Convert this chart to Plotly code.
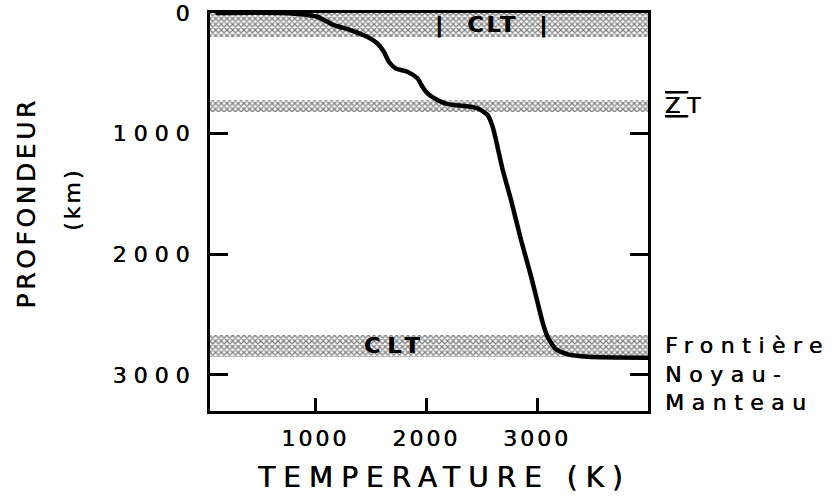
import plotly.graph_objects as go

# Temperature profile through the mantle (K vs km)
temperature = [100, 700, 1015, 1166, 1317, 1468, 1558, 1618, 1663, 1724, 1830,
               1920, 1966, 2011, 2101, 2192, 2342, 2463, 2554, 2599, 2629, 2650,
               2690, 2765, 2855, 2946, 3006, 3052, 3097, 3172, 3278, 3459, 4000]
depth = [0, 0, 31, 100, 141, 197, 251, 321, 404, 459, 487,
         541, 611, 666, 721, 755, 771, 790, 846, 943, 1053, 1140,
         1302, 1551, 1882, 2186, 2407, 2573, 2690, 2789, 2830, 2850, 2858]

# Thermal boundary layers / transition zone (km)
band_top = [0, 720, 2670]
band_bottom = [200, 820, 2850]

x_ticks = [1000, 2000, 3000]
y_ticks = [0, 1000, 2000, 3000]
T_MIN, T_MAX = 50, 4000
D_MAX = 3300

FONT = "DejaVu Sans"
# slight horizontal smear to give the lettering a heavier, printed look
INK = "0.5px 0px 0px black"


def spaced(text, ls):
    return f'<span style="letter-spacing:{ls}px">{text}</span>'


fig = go.Figure()

# hatched layers spanning the whole temperature axis
fig.add_trace(go.Bar(
    orientation="h",
    y=[(a + b) / 2 for a, b in zip(band_top, band_bottom)],
    width=[b - a for a, b in zip(band_top, band_bottom)],
    x=[T_MAX - T_MIN] * len(band_top),
    base=T_MIN,
    marker=dict(color="white", line=dict(width=0),
                pattern=dict(shape="x", size=4, solidity=0.55,
                             fgcolor="black", bgcolor="white")),
    hoverinfo="skip", showlegend=False,
))

fig.add_trace(go.Scatter(
    x=temperature, y=depth, mode="lines",
    line=dict(color="black", width=4.5, shape="spline", smoothing=0.6),
    showlegend=False,
))

annotations = [
    # axis titles
    dict(text=spaced("PROFONDEUR", 3.6), x=-0.418, y=0.523, xref="paper", yref="paper",
         textangle=-90, font=dict(size=25)),
    dict(text=spaced("(km)", 3), x=-0.315, y=0.53, xref="paper", yref="paper",
         textangle=-90, font=dict(size=22)),
    dict(text=spaced("TEMPERATURE (K)", 8), x=0.535, y=-0.168, xref="paper", yref="paper",
         font=dict(size=28)),
    # layer labels
    dict(text="<b>" + spaced("|\u00a0\u00a0CLT\u00a0\u00a0|", 3) + "</b>",
         x=2600, y=(band_top[0] + band_bottom[0]) / 2, xref="x", yref="y",
         font=dict(size=22)),
    dict(text="<b>" + spaced("CLT", 7) + "</b>",
         x=1720, y=(band_top[2] + band_bottom[2]) / 2, xref="x", yref="y",
         font=dict(size=22)),
    # right-hand labels
    dict(text=spaced('<span style="text-decoration:underline overline">Z</span>T', 7),
         x=1.034, y=(band_top[1] + band_bottom[1]) / 2, xref="paper", yref="y",
         xanchor="left", font=dict(size=22)),
    dict(text=spaced("Frontière<br>Noyau-<br>Manteau", 7.5),
         x=1.034, y=2640, xref="paper", yref="y", xanchor="left", yanchor="top",
         align="left", font=dict(size=22)),
]
for a in annotations:
    a.setdefault("showarrow", False)
    a["font"] = dict(family=FONT, color="black", shadow=INK, **a["font"])
    a.setdefault("xanchor", "center")
    a.setdefault("yanchor", "middle")

fig.update_layout(
    width=835, height=498,
    margin=dict(l=210, r=187, t=13, b=87),
    paper_bgcolor="white", plot_bgcolor="white",
    font=dict(family=FONT, color="black", size=22),
    annotations=annotations,
    bargap=0,
)
fig.update_xaxes(
    range=[T_MIN, T_MAX], showgrid=False, zeroline=False, automargin=False,
    showline=True, linecolor="black", linewidth=3, mirror=True,
    ticks="inside", ticklen=13, tickwidth=3, tickcolor="black",
    tickvals=x_ticks, ticktext=[spaced(str(v), 3) for v in x_ticks],
    tickfont=dict(family=FONT, size=22, color="black", shadow=INK),
    ticklabelstandoff=6,
)
fig.update_yaxes(
    range=[D_MAX, 0], showgrid=False, zeroline=False, automargin=False,
    showline=True, linecolor="black", linewidth=3, mirror="allticks",
    ticks="inside", ticklen=18, tickwidth=3, tickcolor="black",
    tickvals=y_ticks, ticktext=[spaced(str(v), 7) for v in y_ticks],
    tickfont=dict(family=FONT, size=22, color="black", shadow=INK),
    ticklabelstandoff=6,
)

fig.write_html("out.html")
